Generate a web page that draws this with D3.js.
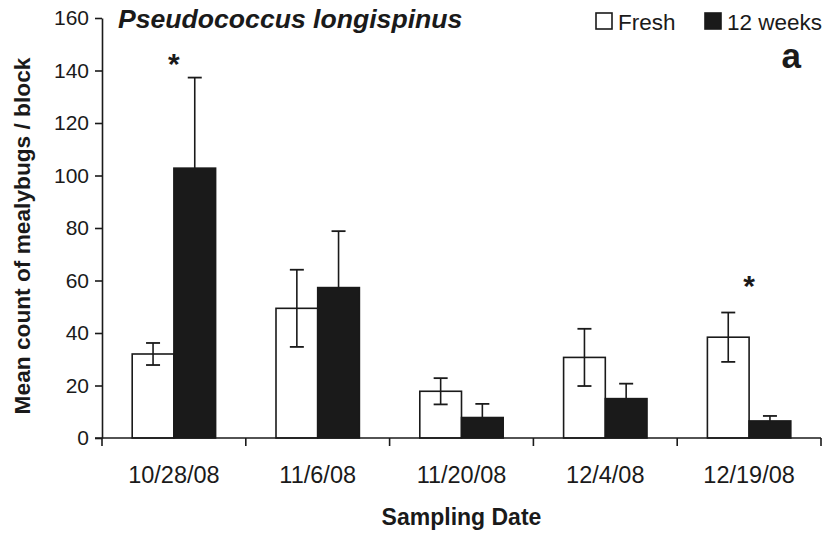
<!DOCTYPE html>
<html>
<head>
<meta charset="utf-8">
<script src="https://cdn.jsdelivr.net/npm/d3@7"></script>
<style>
  html, body { margin: 0; padding: 0; background: #fff; }
  svg text { font-family: "Liberation Sans", Arial, Helvetica, sans-serif; fill: #1a1a1a; }
</style>
</head>
<body>
<svg id="chart" width="828" height="534"></svg>
<script>
// Sampling dates (x categories)
const dates = ["10/28/08", "11/6/08", "11/20/08", "12/4/08", "12/19/08"];
// Series labels
const seriesNames = ["Fresh", "12 weeks"];
// Mean counts of mealybugs per block, with standard errors
const freshMean = [32.0, 49.4, 17.8, 30.7, 38.4];
const freshSE   = [4.2, 14.7, 5.0, 10.9, 9.4];
const weeksMean = [102.8, 57.3, 7.8, 15.0, 6.5];
const weeksSE   = [34.5, 21.5, 5.2, 5.7, 1.9];
// Y-axis ticks
const yTicks = [0, 20, 40, 60, 80, 100, 120, 140, 160];
// Significant differences (asterisks): date and height in count units
const sigDates = ["10/28/08", "12/19/08"];
const sigLevels = [145, 60.5];

const svg = d3.select("#chart");
const plot = { left: 102, right: 821, top: 18, bottom: 438 };
const ink = "#1a1a1a";

const x = d3.scaleBand().domain(dates).range([plot.left, plot.right]).padding(0);
const xs = d3.scaleBand().domain(seriesNames)
  .range([x.bandwidth() * 0.21, x.bandwidth() * 0.79]).padding(0);
const y = d3.scaleLinear().domain([0, 160]).range([plot.bottom, plot.top]);

const rows = dates.map((d, i) => ({
  date: d,
  values: [
    { key: "Fresh", mean: freshMean[i], se: freshSE[i], fill: "#ffffff", both: true },
    { key: "12 weeks", mean: weeksMean[i], se: weeksSE[i], fill: ink, both: false }
  ]
}));

// Bars
const groups = svg.append("g").selectAll("g").data(rows).join("g")
  .attr("transform", d => `translate(${x(d.date)},0)`);

groups.selectAll("rect").data(d => d.values).join("rect")
  .attr("x", v => xs(v.key))
  .attr("y", v => y(v.mean))
  .attr("width", xs.bandwidth())
  .attr("height", v => y(0) - y(v.mean))
  .attr("fill", v => v.fill)
  .attr("stroke", ink)
  .attr("stroke-width", 1.6);

// Error bars
const capW = 14;
groups.selectAll("g.err").data(d => d.values).join("g")
  .attr("class", "err")
  .each(function (v) {
    const g = d3.select(this);
    const cx = xs(v.key) + xs.bandwidth() / 2;
    const top = y(v.mean + v.se);
    const bot = v.both ? y(v.mean - v.se) : y(v.mean);
    g.append("line").attr("x1", cx).attr("x2", cx).attr("y1", top).attr("y2", bot)
      .attr("stroke", ink).attr("stroke-width", 1.6);
    g.append("line").attr("x1", cx - capW / 2).attr("x2", cx + capW / 2)
      .attr("y1", top).attr("y2", top).attr("stroke", ink).attr("stroke-width", 1.8);
    if (v.both) {
      g.append("line").attr("x1", cx - capW / 2).attr("x2", cx + capW / 2)
        .attr("y1", bot).attr("y2", bot).attr("stroke", ink).attr("stroke-width", 1.8);
    }
  });

// Y axis
const yAxis = svg.append("g")
  .attr("transform", `translate(${plot.left},0)`)
  .call(d3.axisLeft(y).tickValues(yTicks).tickSize(7).tickPadding(6).tickSizeOuter(0));
yAxis.select(".domain").attr("stroke", ink).attr("stroke-width", 1.6);
yAxis.selectAll(".tick line").attr("stroke", ink).attr("stroke-width", 1.6);
yAxis.selectAll(".tick text").attr("font-size", 21).attr("fill", "#222");

// X axis: baseline with ticks at category boundaries
svg.append("line")
  .attr("x1", plot.left - 7).attr("x2", plot.right)
  .attr("y1", y(0)).attr("y2", y(0))
  .attr("stroke", ink).attr("stroke-width", 1.6);
const bounds = dates.map(d => x(d)).concat([x(dates[dates.length - 1]) + x.step()]);
svg.append("g").selectAll("line").data(bounds).join("line")
  .attr("x1", d => d).attr("x2", d => d)
  .attr("y1", y(0)).attr("y2", y(0) + 8)
  .attr("stroke", ink).attr("stroke-width", 1.6);
svg.append("g").selectAll("text").data(dates).join("text")
  .attr("x", d => x(d) + x.bandwidth() / 2)
  .attr("y", 483)
  .attr("text-anchor", "middle")
  .attr("font-size", 23.5)
  .attr("fill", "#222")
  .text(d => d);

// Significance markers
svg.append("g").selectAll("text").data(sigDates).join("text")
  .attr("x", d => x(d) + x.bandwidth() / 2)
  .attr("y", (d, i) => y(sigLevels[i]) + 17)
  .attr("text-anchor", "middle")
  .attr("font-size", 30)
  .attr("font-weight", "bold")
  .text("*");

// Axis titles
svg.append("text")
  .attr("x", (plot.left + plot.right) / 2)
  .attr("y", 525)
  .attr("text-anchor", "middle")
  .attr("font-size", 23)
  .attr("font-weight", "bold")
  .text("Sampling Date");
svg.append("text")
  .attr("transform", `translate(30,${(plot.top + plot.bottom) / 2 + 8}) rotate(-90)`)
  .attr("text-anchor", "middle")
  .attr("font-size", 22.7)
  .attr("font-weight", "bold")
  .text("Mean count of mealybugs / block");

// Species title
svg.append("text")
  .attr("x", 118).attr("y", 28)
  .attr("font-size", 26.6)
  .attr("font-weight", "bold")
  .attr("font-style", "italic")
  .text("Pseudococcus longispinus");

// Panel letter
svg.append("text")
  .attr("x", 801).attr("y", 68)
  .attr("text-anchor", "end")
  .attr("font-size", 35)
  .attr("font-weight", "bold")
  .text("a");

// Legend
const legend = svg.append("g").selectAll("g").data(seriesNames).join("g")
  .attr("transform", (d, i) => `translate(${i === 0 ? 596 : 705},13)`);
legend.append("rect")
  .attr("width", 16).attr("height", 16)
  .attr("fill", (d, i) => i === 0 ? "#ffffff" : ink)
  .attr("stroke", ink).attr("stroke-width", 1.6);
legend.append("text")
  .attr("x", 22).attr("y", 16.5)
  .attr("font-size", 22.5)
  .attr("fill", "#222")
  .text(d => d);
</script>
</body>
</html>
